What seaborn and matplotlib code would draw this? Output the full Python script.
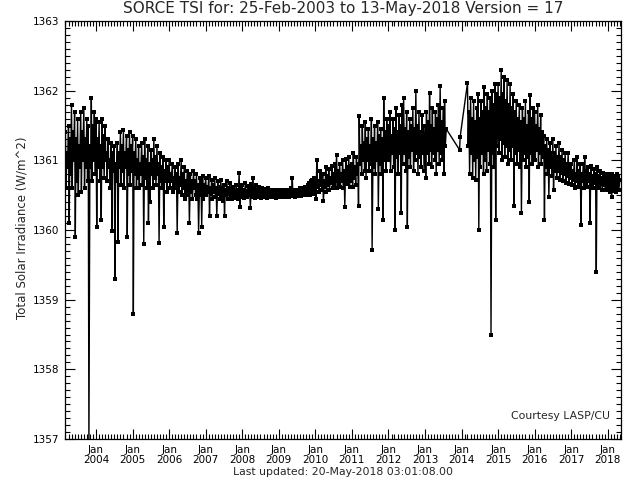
import matplotlib
matplotlib.use("Agg")
import matplotlib.pyplot as plt
import matplotlib.dates as mdates
from matplotlib.ticker import MultipleLocator, FormatStrFormatter
import pandas as pd
import seaborn as sns

# ---- data (W/m^2) ----
# "hi" = upper readings on the 1st/15th of each month, "lo" = lower readings on the 8th/22nd
hi_2003 = [1361.4, 1361.1, 1361.5, 1361.3, 1361.8, 1361.4, 1361.7, 1361.3, 1361.6, 1361.2,
           1361.7, 1361.4, 1361.75, 1361.3, 1361.6, 1361.5, 1361.2, 1361.9, 1361.5, 1361.7]
lo_2003 = [1360.6, 1360.9, 1360.1, 1360.8, 1360.6, 1361.0, 1359.9, 1360.7, 1360.5, 1360.9,
           1360.55, 1361.0, 1360.6, 1360.9, 1360.7, 1356.9, 1360.9, 1360.7, 1361.0, 1360.8]
hi_2004 = [1361.6, 1361.3, 1361.55, 1361.2, 1361.6, 1361.35, 1361.5, 1361.1, 1361.3, 1361.0,
           1361.25, 1361.1, 1361.2, 1360.95, 1361.25, 1361.1, 1361.4, 1361.2, 1361.44, 1361.1,
           1361.35, 1361.15, 1361.4, 1361.2]
lo_2004 = [1360.05, 1360.9, 1360.7, 1360.15, 1360.9, 1360.75, 1361.0, 1360.7, 1360.9, 1360.6,
           1359.98, 1360.85, 1359.29, 1360.7, 1359.83, 1360.9, 1360.65, 1360.85, 1360.6, 1360.9,
           1359.9, 1360.8, 1360.65, 1360.85]
hi_2005 = [1361.35, 1361.1, 1361.3, 1361.0, 1361.2, 1360.95, 1361.25, 1361.05, 1361.3, 1361.0,
           1361.2, 1360.95, 1361.15, 1361.0, 1361.3, 1361.05, 1361.2, 1360.95, 1361.1, 1360.9,
           1361.05, 1360.85, 1361.0, 1360.9]
lo_2005 = [1358.79, 1360.8, 1360.6, 1360.75, 1360.6, 1360.8, 1360.65, 1359.8, 1360.75, 1360.6,
           1360.1, 1360.4, 1360.8, 1360.6, 1360.75, 1360.65, 1360.8, 1359.82, 1360.7, 1360.6,
           1360.05, 1360.7, 1360.55, 1360.7]
hi_2006 = [1361.0, 1360.8, 1360.95, 1360.75, 1360.9, 1360.8, 1360.95, 1360.75, 1361.0, 1360.8,
           1360.9, 1360.7, 1360.85, 1360.75, 1360.8, 1360.7, 1360.85, 1360.7, 1360.8, 1360.65,
           1360.75, 1360.7, 1360.78, 1360.65]
lo_2006 = [1360.6, 1360.7, 1360.55, 1360.65, 1360.6, 1359.96, 1360.55, 1360.65, 1360.5, 1360.6,
           1360.45, 1360.55, 1360.5, 1360.1, 1360.55, 1360.45, 1360.6, 1360.5, 1360.45, 1359.96,
           1360.5, 1360.05, 1360.45, 1360.55]
hi_2007 = [1360.75, 1360.62, 1360.77, 1360.6, 1360.72, 1360.65, 1360.75, 1360.6, 1360.7, 1360.62,
           1360.72, 1360.6, 1360.65, 1360.58, 1360.7, 1360.6, 1360.68, 1360.58, 1360.62, 1360.56,
           1360.65, 1360.58, 1360.82, 1360.6]
lo_2007 = [1360.5, 1360.55, 1360.2, 1360.52, 1360.45, 1360.55, 1360.48, 1360.2, 1360.52, 1360.45,
           1360.5, 1360.42, 1360.2, 1360.5, 1360.45, 1360.52, 1360.48, 1360.45, 1360.5, 1360.46,
           1360.5, 1360.45, 1360.33, 1360.48]
hi_2008 = [1360.65, 1360.58, 1360.67, 1360.56, 1360.63, 1360.6, 1360.66, 1360.75, 1360.6, 1360.65,
           1360.57, 1360.62, 1360.58, 1360.6, 1360.55, 1360.59, 1360.56, 1360.6, 1360.55, 1360.58,
           1360.54, 1360.58, 1360.55, 1360.57]
lo_2008 = [1360.5, 1360.46, 1360.52, 1360.47, 1360.5, 1360.32, 1360.48, 1360.52, 1360.46, 1360.5,
           1360.47, 1360.5, 1360.46, 1360.49, 1360.47, 1360.5, 1360.46, 1360.49, 1360.47, 1360.5,
           1360.47, 1360.49, 1360.46, 1360.49]
hi_2009 = [1360.57, 1360.56, 1360.58, 1360.56, 1360.57, 1360.58, 1360.56, 1360.58, 1360.6, 1360.75,
           1360.57, 1360.58, 1360.57, 1360.58, 1360.6, 1360.58, 1360.6, 1360.62, 1360.6, 1360.65,
           1360.68, 1360.7, 1360.72, 1360.75]
lo_2009 = [1360.48, 1360.49, 1360.48, 1360.49, 1360.48, 1360.49, 1360.48, 1360.5, 1360.49, 1360.5,
           1360.48, 1360.5, 1360.49, 1360.5, 1360.49, 1360.5, 1360.5, 1360.52, 1360.5, 1360.53,
           1360.5, 1360.55, 1360.52, 1360.55]
hi_2010 = [1360.75, 1361.0, 1360.7, 1360.85, 1360.75, 1360.8, 1360.7, 1360.9, 1360.78, 1360.88,
           1360.75, 1360.92, 1360.8, 1360.95, 1361.08, 1360.85, 1360.95, 1360.8, 1361.0, 1360.85,
           1361.02, 1360.9, 1361.05, 1360.92]
lo_2010 = [1360.44, 1360.62, 1360.55, 1360.65, 1360.58, 1360.41, 1360.62, 1360.55, 1360.65, 1360.58,
           1360.68, 1360.6, 1360.66, 1360.7, 1360.6, 1360.68, 1360.62, 1360.7, 1360.6, 1360.33,
           1360.66, 1360.72, 1360.62, 1360.7]
hi_2011 = [1360.95, 1361.1, 1360.9, 1361.05, 1360.95, 1361.63, 1361.2, 1361.5, 1361.25, 1361.55,
           1361.3, 1361.45, 1361.2, 1361.6, 1361.3, 1361.5, 1361.25, 1361.55, 1361.35, 1361.45,
           1361.3, 1361.9, 1361.4, 1361.6]
lo_2011 = [1360.62, 1360.75, 1360.65, 1360.8, 1360.34, 1360.95, 1360.8, 1361.0, 1360.85, 1360.75,
           1361.0, 1360.85, 1360.95, 1359.72, 1360.9, 1360.8, 1361.0, 1360.3, 1360.95, 1360.8,
           1360.15, 1361.0, 1360.85, 1361.05]
hi_2012 = [1361.5, 1361.7, 1361.35, 1361.6, 1361.45, 1361.75, 1361.4, 1361.65, 1361.5, 1361.8,
           1361.9, 1361.45, 1361.7, 1361.4, 1361.6, 1361.5, 1361.75, 1361.45, 1362.0, 1361.5,
           1361.7, 1361.4, 1361.65, 1361.5]
lo_2012 = [1361.0, 1360.85, 1361.1, 1360.9, 1360.0, 1361.05, 1360.8, 1361.1, 1360.25, 1360.95,
           1361.1, 1360.85, 1360.05, 1361.05, 1360.9, 1361.15, 1360.85, 1361.0, 1361.1, 1360.8,
           1361.05, 1360.9, 1361.1, 1360.85]
hi_2013 = [1361.5, 1361.7, 1361.55, 1361.97, 1361.5, 1361.75, 1361.45, 1361.7, 1361.6, 1361.8,
           1362.06, 1361.55, 1361.75, 1361.85, 1361.45]
lo_2013 = [1360.75, 1361.1, 1360.95, 1361.15, 1360.9, 1361.1, 1361.0, 1360.8, 1361.15, 1360.95,
           1361.1, 1361.0, 1360.8, 1361.2]
gap_dates = ["2013-12-12", "2013-12-18"]
gap_tsi = [1361.15, 1361.34]
hi_2014 = [1362.11, 1361.7, 1361.9, 1361.6, 1361.85, 1361.55, 1361.75, 1361.95, 1361.6, 1361.85,
           1361.7, 1362.05, 1361.75, 1361.95, 1361.7, 1361.9, 1362.0, 1361.8, 1362.1, 1361.95]
lo_2014 = [1361.2, 1360.8, 1361.1, 1360.75, 1361.0, 1360.72, 1361.05, 1360.0, 1360.9, 1361.1,
           1360.8, 1361.0, 1360.85, 1361.15, 1360.95, 1358.5, 1361.1, 1360.9, 1360.14, 1361.2]
hi_2015 = [1362.1, 1361.9, 1362.3, 1361.95, 1362.2, 1361.85, 1362.15, 1361.8, 1362.1, 1361.75,
           1361.95, 1361.7, 1361.85, 1361.6, 1361.8, 1361.55, 1361.75, 1361.6, 1361.85, 1361.5,
           1361.7, 1361.94, 1361.6, 1361.75]
lo_2015 = [1361.1, 1361.3, 1361.0, 1361.25, 1361.05, 1361.2, 1360.95, 1361.15, 1361.0, 1361.2,
           1360.34, 1361.1, 1360.95, 1361.15, 1360.9, 1360.24, 1361.0, 1361.1, 1360.9, 1361.05,
           1360.4, 1361.1, 1360.95, 1361.05]
hi_2016 = [1361.7, 1361.5, 1361.8, 1361.45, 1361.65, 1361.4, 1361.35, 1361.2, 1361.3, 1361.15,
           1361.25, 1361.1, 1361.3, 1361.1, 1361.2, 1361.05, 1361.25, 1361.05, 1361.15, 1361.0,
           1361.1, 1360.95, 1361.1, 1360.95]
lo_2016 = [1361.0, 1361.15, 1360.9, 1361.1, 1360.95, 1361.05, 1360.14, 1360.9, 1360.8, 1360.48,
           1360.9, 1360.78, 1360.57, 1360.85, 1360.75, 1360.85, 1360.72, 1360.82, 1360.7, 1360.8,
           1360.68, 1360.78, 1360.66, 1360.75]
hi_2017 = [1360.95, 1360.85, 1361.0, 1360.8, 1361.05, 1360.85, 1360.95, 1360.8, 1360.95, 1361.05,
           1360.85, 1360.9, 1360.8, 1360.92, 1360.78, 1360.88, 1360.8, 1360.9, 1360.78, 1360.85,
           1360.75, 1360.82, 1360.76, 1360.8]
lo_2017 = [1360.65, 1360.72, 1360.6, 1360.7, 1360.62, 1360.68, 1360.07, 1360.7, 1360.6, 1360.68,
           1360.62, 1360.7, 1360.1, 1360.66, 1360.6, 1360.68, 1359.39, 1360.65, 1360.6, 1360.66,
           1360.58, 1360.64, 1360.58, 1360.62]
hi_2018 = [1360.78, 1360.8, 1360.75, 1360.8, 1360.78, 1360.75, 1360.8, 1360.77, 1360.72]
lo_2018 = [1360.58, 1360.55, 1360.48, 1360.56, 1360.58, 1360.55, 1360.6, 1360.58]

segments = [("2003-03-01", hi_2003, lo_2003), ("2004-01-01", hi_2004, lo_2004),
            ("2005-01-01", hi_2005, lo_2005), ("2006-01-01", hi_2006, lo_2006),
            ("2007-01-01", hi_2007, lo_2007), ("2008-01-01", hi_2008, lo_2008),
            ("2009-01-01", hi_2009, lo_2009), ("2010-01-01", hi_2010, lo_2010),
            ("2011-01-01", hi_2011, lo_2011), ("2012-01-01", hi_2012, lo_2012),
            ("2013-01-01", hi_2013, lo_2013), ("2014-03-01", hi_2014, lo_2014),
            ("2015-01-01", hi_2015, lo_2015), ("2016-01-01", hi_2016, lo_2016),
            ("2017-01-01", hi_2017, lo_2017), ("2018-01-01", hi_2018, lo_2018)]

frames = []
for start, hi, lo in segments:
    frames.append(pd.DataFrame({"date": pd.date_range(start, periods=len(hi), freq="SMS"),
                                "tsi": hi}))
    frames.append(pd.DataFrame({"date": pd.date_range(start, periods=len(lo), freq="SMS")
                                + pd.Timedelta(days=7), "tsi": lo}))
frames.append(pd.DataFrame({"date": pd.to_datetime(gap_dates), "tsi": gap_tsi}))
df = pd.concat(frames).sort_values("date").reset_index(drop=True)

title = "SORCE TSI for: 25-Feb-2003 to 13-May-2018 Version = 17"
ylabel = "Total Solar Irradiance (W/m^2)"
footer = "Last updated: 20-May-2018 03:01:08.00"
credit = "Courtesy LASP/CU"

# ---- plotting ----
sns.set_theme(style="ticks")
plt.rcParams["font.family"] = ["DejaVu Sans"]

fig = plt.figure(figsize=(6.4, 4.8), dpi=100)
ax = fig.add_axes([65 / 640, 1 - 439 / 480, (621 - 65) / 640, (439 - 21) / 480])

sns.lineplot(data=df, x="date", y="tsi", ax=ax, color="black", linewidth=1.0,
             marker="s", markersize=2.4, markeredgewidth=0, estimator=None, sort=False)

ax.set_xlim(pd.Timestamp("2003-02-25"), pd.Timestamp("2018-05-13"))
ax.set_ylim(1357, 1363)

ax.xaxis.set_major_locator(mdates.YearLocator())
ax.xaxis.set_minor_locator(mdates.MonthLocator())
ax.xaxis.set_major_formatter(mdates.DateFormatter("%b\n%Y"))
ax.yaxis.set_major_locator(MultipleLocator(1))
ax.yaxis.set_minor_locator(MultipleLocator(0.1))
ax.yaxis.set_major_formatter(FormatStrFormatter("%d"))

ax.tick_params(which="both", direction="in", top=True, right=True, colors="black",
               labelsize=7.5, width=0.8)
ax.tick_params(which="major", length=7.5, pad=4)
ax.tick_params(which="minor", length=3.6)
for lab in ax.get_xticklabels():
    lab.set_linespacing(1.1)

for s in ax.spines.values():
    s.set_linewidth(0.9)
    s.set_color("black")

ax.set_xlabel("")
ax.set_ylabel("")
fig.text(22 / 640, 1 - 228 / 480, ylabel, rotation=90, ha="center", va="center", fontsize=8.5)
fig.text(343 / 640, 1 - 9 / 480, title, ha="center", va="center", fontsize=11)
fig.text(343 / 640, 1 - 472 / 480, footer, ha="center", va="center", fontsize=7.8)
fig.text(610 / 640, 1 - 416 / 480, credit, ha="right", va="center", fontsize=7.8)

fig.savefig("out.png", dpi=100, facecolor="white")
